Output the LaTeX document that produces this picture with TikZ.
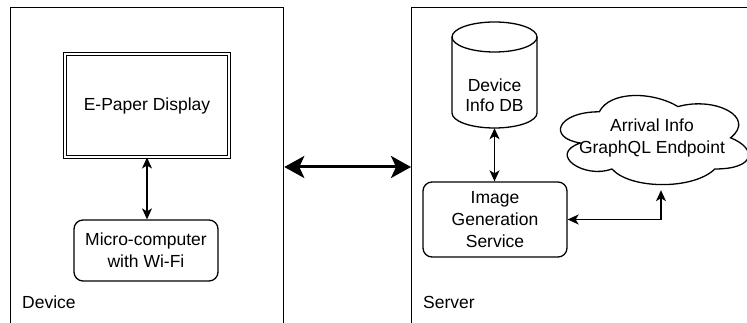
\documentclass[tikz,border=0pt]{standalone}
\usepackage{fontspec}
\setmainfont{Liberation Sans}
\usetikzlibrary{arrows.meta,calc}
\begin{document}
\begin{tikzpicture}[x=1pt,y=-1pt,
  every node/.style={font=\fontsize{17.5}{22}\selectfont, align=center, inner sep=0pt},
  frame/.style={draw, line width=1.3pt, minimum width=400pt, minimum height=350pt, anchor=north west},
  block/.style={draw, line width=1.3pt, rounded corners=9pt},
  tip/.style={Stealth[length=11pt,width=10pt,inset=3pt]},
  bigtip/.style={Stealth[length=20pt,width=22pt,inset=5pt]},
  link/.style={line width=1.3pt, {Stealth[length=11pt,width=10pt,inset=3pt]}-{Stealth[length=11pt,width=10pt,inset=3pt]}},
  biglink/.style={line width=3pt, {Stealth[length=20pt,width=22pt,inset=5pt]}-{Stealth[length=20pt,width=22pt,inset=5pt]}},
]
\useasboundingbox (0,0) rectangle (747,323);
\fill[white] (0,0) rectangle (747,323);
\clip (0,0) rectangle (747,323);

% containers
\node[frame, minimum width=273pt] (device) at (10,7) {};
\node[frame] (server) at (411,7) {};
\node[anchor=west] (devlabel) at (22,302) {Device};
\node[anchor=west] (srvlabel) at (423,302) {Server};

% device side
\node[draw, double, line width=1pt, double distance=2pt,
      minimum width=164pt, minimum height=103pt] (epd) at (147,105.5) {E-Paper Display};
\node[block, minimum width=144pt, minimum height=61pt] (mcu) at (146,250.5) {Micro-computer\\with Wi-Fi};
\draw[link] (epd.south) -- (epd.south |- mcu.north);

% link between device and server
\coordinate (mid) at (0,167);
\draw[biglink] (device.east |- mid) -- (server.west |- mid);

% database cylinder
\node[minimum width=85pt, minimum height=106pt] (db) at (494.5,75) {};
\draw[line width=1.3pt] (494.5,37) ellipse [x radius=42.5pt, y radius=15pt];
\draw[line width=1.3pt] (452,37) -- (452,113)
  arc[start angle=180, end angle=360, x radius=42.5pt, y radius=15pt] -- (537,37);
\node[font=\fontsize{17.5}{20}\selectfont] (dblabel) at (494.5,95) {Device\\Info DB};

% image generation service
\node[block, minimum width=144pt, minimum height=75pt] (igs) at (495,219.5) {Image\\Generation\\Service};
\draw[link] (db.south) -- (db.south |- igs.north);

% external endpoint cloud
\node[minimum width=210pt, minimum height=104pt] (api) at (652,138) {Arrival Info\\GraphQL Endpoint};
\begin{scope}[shift={(api.north west)}, x=210pt, y=-104pt]
  \draw[line width=1.3pt] (0.25,0.25)
    .. controls (0.05,0.25) and (0,0.5) .. (0.16,0.55)
    .. controls (0,0.66) and (0.18,0.9) .. (0.31,0.8)
    .. controls (0.4,1) and (0.7,1) .. (0.8,0.8)
    .. controls (1,0.8) and (1,0.6) .. (0.875,0.5)
    .. controls (1,0.3) and (0.8,0.1) .. (0.625,0.2)
    .. controls (0.5,0.05) and (0.3,0.05) .. (0.25,0.25) -- cycle;
\end{scope}
\draw[link] (igs.east) -| ([xshift=9pt]api.south);
\end{tikzpicture}
\end{document}
